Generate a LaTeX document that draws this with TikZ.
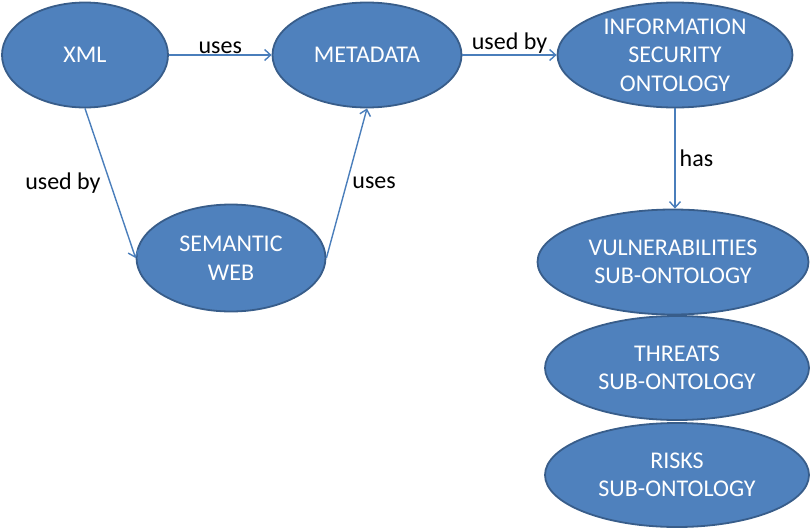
\documentclass[tikz,border=0pt]{standalone}
\usepackage{fontspec}
\setmainfont{Carlito}
\usetikzlibrary{shapes.geometric,arrows.meta}
\definecolor{ofill}{HTML}{4F81BD}
\definecolor{odraw}{HTML}{385D8A}
\definecolor{oarrow}{HTML}{4A7EBB}
\begin{document}
\begin{tikzpicture}[x=1pt,y=-1pt,
  oval/.style={ellipse,draw=odraw,line width=1.8pt,fill=ofill,text=white,inner sep=0pt,align=center,
    font=\fontsize{24}{28.5}\selectfont},
  conn/.style={draw=oarrow,line width=1.4pt,-{Straight Barb[length=6pt,width=11pt,line width=1.4pt]}},
  lbl/.style={text=black,font=\fontsize{24}{28}\selectfont}]
\useasboundingbox (0,0) rectangle (811,530);
\node[oval,minimum width=166pt,minimum height=105pt] (xml) at (85,55) {XML};
\node[oval,minimum width=189pt,minimum height=105pt] (meta) at (367,55) {METADATA};
\node[oval,minimum width=235pt,minimum height=105pt] (iso) at (675,55) {INFORMATION\\SECURITY\\ONTOLOGY};
\node[oval,minimum width=189pt,minimum height=107pt] (sem) at (231,258) {SEMANTIC\\WEB};
\node[oval,minimum width=271pt,minimum height=105pt] (vuln) at (673,262) {VULNERABILITIES\\SUB-ONTOLOGY};
\node[oval,minimum width=264pt,minimum height=104pt] (thr) at (677,368) {THREATS\\SUB-ONTOLOGY};
\node[oval,minimum width=264pt,minimum height=104pt] (risk) at (677,475) {RISKS\\SUB-ONTOLOGY};
\draw[conn] (xml.east) -- node[lbl,above,inner sep=1pt] {uses} (meta.west);
\draw[conn] (meta.east) -- node[lbl,above,inner sep=1pt] {used by} (iso.west);
\draw[conn] (xml.south) -- node[lbl,left,inner sep=9pt] {used by} (sem.west);
\draw[conn] (sem.east) -- node[lbl,right,inner sep=5pt] {uses} (meta.south);
\draw[conn] (iso.south) -- node[lbl,right,inner sep=4pt] {has} (iso.south |- vuln.north);
\end{tikzpicture}
\end{document}
